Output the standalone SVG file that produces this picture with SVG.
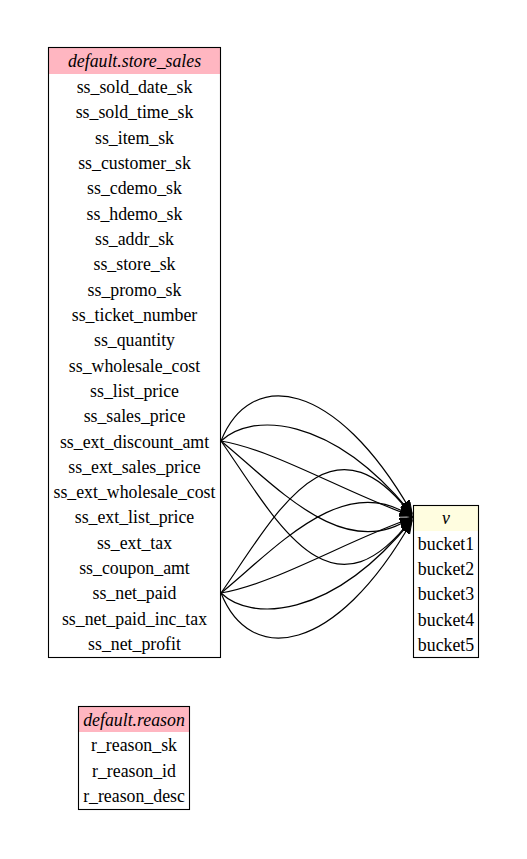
<svg xmlns="http://www.w3.org/2000/svg" width="527" height="859" viewBox="0 0 527 859">
<style>
.t{font-family:"Liberation Serif","Times New Roman",serif;font-size:17.8px;fill:#000;text-anchor:middle}
.h{font-style:italic}
.box{fill:none;stroke:#000;stroke-width:1.1}
.e{fill:none;stroke:#000;stroke-width:1.2;marker-end:url(#arr)}
</style>
<defs>
<marker id="arr" markerUnits="userSpaceOnUse" markerWidth="14" markerHeight="11" refX="12.6" refY="4.4" orient="auto" viewBox="0 0 14 11">
<path d="M0,0 L12.6,4.4 L0,8.8 z" fill="#000" stroke="#000" stroke-width="1"/>
</marker>
</defs>
<rect width="527" height="859" fill="#fff"/>
<g id="store_sales">
<rect x="49" y="48" width="171" height="26" fill="#ffb6c1"/>
<rect class="box" x="48.5" y="47.5" width="172" height="610"/>
<text class="t h" x="134.5" y="67.3">default.store_sales</text>
<text class="t" x="134.5" y="93.0">ss_sold_date_sk</text>
<text class="t" x="134.5" y="118.3">ss_sold_time_sk</text>
<text class="t" x="134.5" y="143.6">ss_item_sk</text>
<text class="t" x="134.5" y="169.0">ss_customer_sk</text>
<text class="t" x="134.5" y="194.3">ss_cdemo_sk</text>
<text class="t" x="134.5" y="219.6">ss_hdemo_sk</text>
<text class="t" x="134.5" y="244.9">ss_addr_sk</text>
<text class="t" x="134.5" y="270.2">ss_store_sk</text>
<text class="t" x="134.5" y="295.6">ss_promo_sk</text>
<text class="t" x="134.5" y="320.9">ss_ticket_number</text>
<text class="t" x="134.5" y="346.2">ss_quantity</text>
<text class="t" x="134.5" y="371.5">ss_wholesale_cost</text>
<text class="t" x="134.5" y="396.8">ss_list_price</text>
<text class="t" x="134.5" y="422.2">ss_sales_price</text>
<text class="t" x="134.5" y="447.5">ss_ext_discount_amt</text>
<text class="t" x="134.5" y="472.8">ss_ext_sales_price</text>
<text class="t" x="134.5" y="498.1">ss_ext_wholesale_cost</text>
<text class="t" x="134.5" y="523.4">ss_ext_list_price</text>
<text class="t" x="134.5" y="548.8">ss_ext_tax</text>
<text class="t" x="134.5" y="574.1">ss_coupon_amt</text>
<text class="t" x="134.5" y="599.4">ss_net_paid</text>
<text class="t" x="134.5" y="624.7">ss_net_paid_inc_tax</text>
<text class="t" x="134.5" y="650.0">ss_net_profit</text>
</g>
<g id="v">
<rect x="414" y="506" width="64" height="25" fill="#fffde0"/>
<rect class="box" x="413.5" y="505.5" width="65" height="152"/>
<text class="t h" x="446" y="524.3">v</text>
<text class="t" x="446" y="549.6">bucket1</text>
<text class="t" x="446" y="574.9">bucket2</text>
<text class="t" x="446" y="600.2">bucket3</text>
<text class="t" x="446" y="625.5">bucket4</text>
<text class="t" x="446" y="650.8">bucket5</text>
</g>
<g id="reason">
<rect x="79" y="707" width="110" height="25" fill="#ffb6c1"/>
<rect class="box" x="78.5" y="706.5" width="111" height="103"/>
<text class="t h" x="134" y="725.5">default.reason</text>
<text class="t" x="134" y="751.2">r_reason_sk</text>
<text class="t" x="134" y="776.5">r_reason_id</text>
<text class="t" x="134" y="801.8">r_reason_desc</text>
</g>
<g id="connectors">
<path class="e" d="M221,441 C250,368 335,378 412,513"/>
<path class="e" d="M221,441 C250,413 330,413 412,514"/>
<path class="e" d="M221,441 C275,450 350,495 412,516"/>
<path class="e" d="M221,441 C275,485 345,565 412,517"/>
<path class="e" d="M221,441 C275,518 330,628 412,518"/>
<path class="e" d="M221,593 C250,666 335,656 412,521"/>
<path class="e" d="M221,593 C250,621 330,621 412,520"/>
<path class="e" d="M221,593 C275,584 350,539 412,518"/>
<path class="e" d="M221,593 C275,549 345,469 412,517"/>
<path class="e" d="M221,593 C275,516 330,406 412,516"/>
</g>
</svg>
